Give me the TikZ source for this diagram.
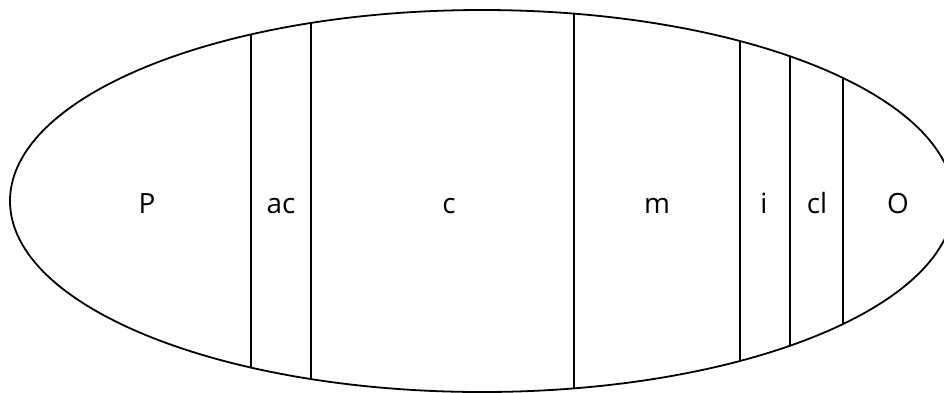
\documentclass[tikz,border=0pt]{standalone}
\usepackage{fontspec}
\setmainfont{Open Sans}
\tikzset{zone/.style={anchor=base,font=\fontsize{28}{30}\selectfont}}
\begin{document}
\begin{tikzpicture}[x=1bp,y=-1bp,line width=1.8bp]
\useasboundingbox (0,0) rectangle (944,392);

\begin{scope}
\clip (482,201) ellipse [x radius=472bp, y radius=191bp];
\foreach \x in {251,311,574,740,790,843}
  \draw (\x,0) -- (\x,400);
\end{scope}
\draw (482,201) ellipse [x radius=472bp, y radius=191bp];

\draw (147,213) node[zone] (p) {P};
\draw (281,213) node[zone] (ac) {ac};
\draw (449,213) node[zone] (c) {c};
\draw (657,213) node[zone] (m) {m};
\draw (764,213) node[zone] (i) {i};
\draw (817,213) node[zone] (cl) {cl};
\draw (898,213) node[zone] (o) {O};
\end{tikzpicture}
\end{document}
